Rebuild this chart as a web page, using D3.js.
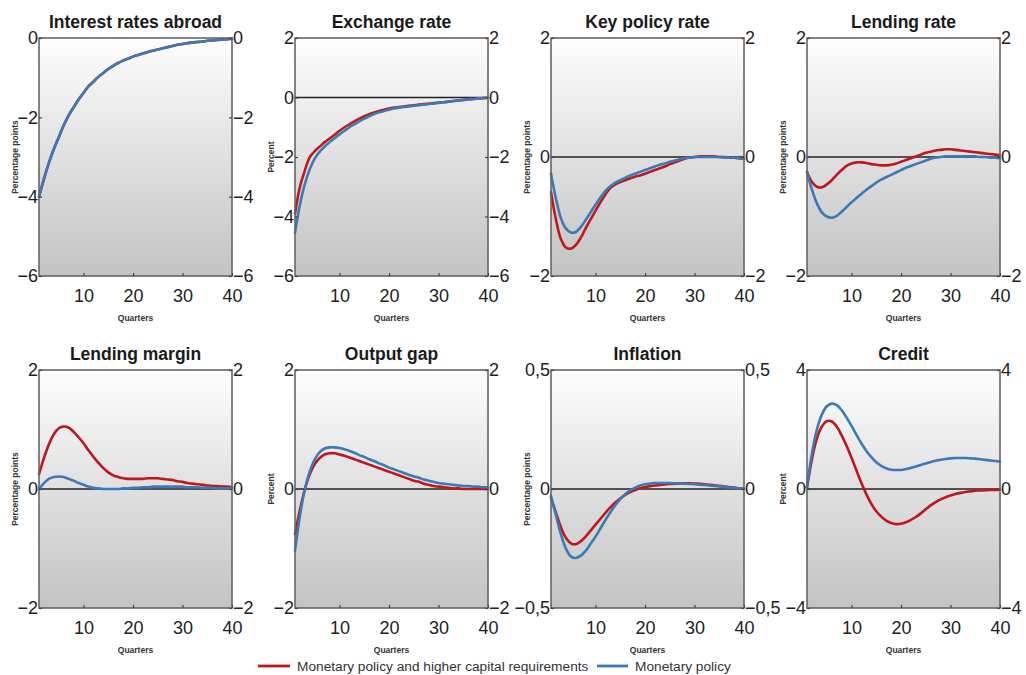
<!DOCTYPE html>
<html><head><meta charset="utf-8">
<script src="https://cdn.jsdelivr.net/npm/d3@7"></script>
<style>
html,body{margin:0;padding:0;background:#fff;}
svg{display:block;font-family:"Liberation Sans",Arial,Helvetica,sans-serif;}
</style></head>
<body><svg id="chart" width="1026" height="675"></svg>
<script>
const quarters = [1,2,3,4,5,6,7,8,9,10,11,12,13,14,15,16,17,18,19,20,21,22,23,24,25,26,27,28,29,30,31,32,33,34,35,36,37,38,39,40];
const xTicks = [10,20,30,40];
const titles = ["Interest rates abroad","Exchange rate","Key policy rate","Lending rate","Lending margin","Output gap","Inflation","Credit"];
const yLabels = ["Percentage points","Percent","Percentage points","Percentage points","Percentage points","Percent","Percentage points","Percent"];
const yDomains = [[-6,0],[-6,2],[-2,2],[-2,2],[-2,2],[-2,2],[-0.5,0.5],[-4,4]];
const yTicks = [[-6,-4,-2,0],[-6,-4,-2,0,2],[-2,0,2],[-2,0,2],[-2,0,2],[-2,0,2],[-0.5,0,0.5],[-4,0,4]];
const seriesNames = ["Monetary policy and higher capital requirements","Monetary policy"];
const seriesColors = ["#c0171c","#3a7ab8"];

// Red = monetary policy and higher capital requirements, Blue = monetary policy
const interestRed = [-4.0,-3.55,-3.15,-2.8,-2.5,-2.2,-1.95,-1.75,-1.55,-1.38,-1.22,-1.1,-0.98,-0.88,-0.78,-0.7,-0.63,-0.57,-0.52,-0.47,-0.43,-0.39,-0.35,-0.32,-0.29,-0.26,-0.23,-0.2,-0.17,-0.15,-0.13,-0.11,-0.1,-0.09,-0.07,-0.06,-0.05,-0.04,-0.03,-0.02];
const interestBlue = [-4.0,-3.55,-3.15,-2.8,-2.5,-2.2,-1.95,-1.75,-1.55,-1.38,-1.22,-1.1,-0.98,-0.88,-0.78,-0.7,-0.63,-0.57,-0.52,-0.47,-0.43,-0.39,-0.35,-0.32,-0.29,-0.26,-0.23,-0.2,-0.17,-0.15,-0.13,-0.11,-0.1,-0.09,-0.07,-0.06,-0.05,-0.04,-0.03,-0.02];
const exchangeRed = [-3.9,-3.0,-2.45,-2.0,-1.8,-1.65,-1.5,-1.38,-1.25,-1.12,-1.0,-0.9,-0.8,-0.71,-0.63,-0.56,-0.5,-0.45,-0.41,-0.37,-0.34,-0.32,-0.3,-0.28,-0.26,-0.24,-0.22,-0.21,-0.19,-0.17,-0.16,-0.14,-0.12,-0.1,-0.08,-0.06,-0.05,-0.03,-0.02,-0.01];
const exchangeBlue = [-4.55,-3.6,-2.9,-2.4,-2.05,-1.82,-1.65,-1.5,-1.37,-1.24,-1.12,-1.0,-0.9,-0.8,-0.71,-0.63,-0.56,-0.5,-0.45,-0.41,-0.37,-0.34,-0.32,-0.3,-0.28,-0.26,-0.24,-0.22,-0.2,-0.18,-0.16,-0.14,-0.12,-0.1,-0.08,-0.06,-0.05,-0.03,-0.02,-0.01];
const policyRed = [-0.59,-1.05,-1.38,-1.52,-1.54,-1.48,-1.36,-1.2,-1.05,-0.9,-0.76,-0.63,-0.52,-0.46,-0.42,-0.39,-0.36,-0.33,-0.31,-0.28,-0.25,-0.22,-0.19,-0.16,-0.12,-0.09,-0.06,-0.03,-0.01,0.0,0.01,0.01,0.01,0.01,0.0,0.0,-0.01,-0.01,-0.02,-0.03];
const policyBlue = [-0.28,-0.7,-1.03,-1.2,-1.27,-1.26,-1.18,-1.06,-0.93,-0.8,-0.68,-0.57,-0.49,-0.43,-0.39,-0.35,-0.31,-0.28,-0.25,-0.22,-0.19,-0.16,-0.13,-0.11,-0.08,-0.06,-0.04,-0.02,-0.01,0.0,0.0,0.0,0.0,0.0,0.0,-0.01,-0.01,-0.01,-0.02,-0.02];
const lendingRed = [-0.25,-0.42,-0.5,-0.51,-0.46,-0.39,-0.3,-0.22,-0.15,-0.11,-0.09,-0.09,-0.1,-0.12,-0.13,-0.14,-0.14,-0.13,-0.11,-0.08,-0.05,-0.02,0.01,0.04,0.07,0.09,0.11,0.12,0.13,0.13,0.12,0.11,0.1,0.09,0.08,0.07,0.06,0.05,0.04,0.03];
const lendingBlue = [-0.25,-0.55,-0.78,-0.93,-1.0,-1.02,-0.99,-0.92,-0.84,-0.76,-0.69,-0.62,-0.55,-0.49,-0.43,-0.38,-0.34,-0.3,-0.26,-0.22,-0.18,-0.15,-0.12,-0.09,-0.06,-0.03,-0.01,0.0,0.01,0.01,0.01,0.01,0.01,0.01,0.01,0.0,0.0,-0.01,-0.01,-0.02];
const marginRed = [0.25,0.52,0.75,0.92,1.02,1.05,1.03,0.96,0.87,0.77,0.65,0.54,0.44,0.35,0.28,0.23,0.2,0.18,0.17,0.17,0.17,0.17,0.18,0.18,0.18,0.17,0.16,0.15,0.13,0.12,0.1,0.09,0.08,0.07,0.06,0.05,0.05,0.04,0.04,0.03];
const marginBlue = [0.0,0.1,0.17,0.2,0.21,0.2,0.17,0.14,0.1,0.07,0.04,0.02,0.01,0.0,0.0,0.0,0.0,0.01,0.01,0.02,0.02,0.03,0.03,0.04,0.04,0.04,0.04,0.04,0.04,0.04,0.03,0.03,0.03,0.02,0.02,0.02,0.01,0.01,0.01,0.01];
const outputRed = [-0.76,-0.35,0.0,0.25,0.42,0.52,0.58,0.6,0.6,0.58,0.56,0.53,0.5,0.47,0.44,0.41,0.38,0.35,0.32,0.29,0.26,0.23,0.2,0.17,0.14,0.12,0.09,0.07,0.05,0.04,0.03,0.02,0.01,0.01,0.0,0.0,0.0,0.0,0.0,0.0];
const outputBlue = [-1.04,-0.45,0.0,0.3,0.5,0.62,0.68,0.7,0.7,0.69,0.67,0.64,0.61,0.57,0.54,0.5,0.47,0.43,0.4,0.36,0.33,0.3,0.27,0.24,0.21,0.19,0.16,0.14,0.12,0.1,0.09,0.08,0.07,0.06,0.05,0.05,0.04,0.04,0.03,0.03];
const inflationRed = [-0.035,-0.1,-0.16,-0.205,-0.228,-0.232,-0.22,-0.2,-0.175,-0.15,-0.125,-0.1,-0.077,-0.057,-0.04,-0.025,-0.013,-0.004,0.003,0.008,0.012,0.015,0.017,0.019,0.021,0.022,0.023,0.024,0.024,0.023,0.022,0.02,0.018,0.016,0.013,0.011,0.008,0.006,0.003,0.001];
const inflationBlue = [-0.03,-0.11,-0.19,-0.25,-0.283,-0.29,-0.28,-0.26,-0.23,-0.2,-0.165,-0.13,-0.098,-0.068,-0.043,-0.022,-0.006,0.006,0.015,0.02,0.023,0.025,0.025,0.025,0.025,0.024,0.023,0.022,0.021,0.02,0.018,0.017,0.015,0.013,0.011,0.009,0.007,0.005,0.003,0.001];
const creditRed = [0.05,1.0,1.7,2.1,2.28,2.27,2.1,1.8,1.45,1.05,0.62,0.2,-0.18,-0.5,-0.75,-0.93,-1.06,-1.14,-1.18,-1.17,-1.12,-1.04,-0.94,-0.82,-0.68,-0.55,-0.44,-0.35,-0.28,-0.22,-0.17,-0.13,-0.1,-0.08,-0.06,-0.05,-0.04,-0.03,-0.03,-0.02];
const creditBlue = [0.05,1.2,2.0,2.5,2.78,2.87,2.82,2.65,2.4,2.12,1.82,1.53,1.28,1.07,0.9,0.78,0.7,0.65,0.64,0.64,0.67,0.71,0.76,0.81,0.86,0.91,0.95,0.98,1.01,1.03,1.04,1.04,1.04,1.03,1.02,1.0,0.98,0.96,0.94,0.92];

const panelSeries = [
  [interestRed, interestBlue],
  [exchangeRed, exchangeBlue],
  [policyRed, policyBlue],
  [lendingRed, lendingBlue],
  [marginRed, marginBlue],
  [outputRed, outputBlue],
  [inflationRed, inflationBlue],
  [creditRed, creditBlue]
];

const svg = d3.select("#chart");
const defs = svg.append("defs");
const grad = defs.append("linearGradient").attr("id","bg").attr("x1",0).attr("y1",0).attr("x2",0).attr("y2",1);
grad.append("stop").attr("offset","0%").attr("stop-color","#fdfdfd");
grad.append("stop").attr("offset","100%").attr("stop-color","#c3c3c3");

const colLefts = [39, 295, 551, 807];
const rowTops = [38, 370];
const pw = 193, ph = 238;

function fmt(v){
  const s = String(Math.abs(v)).replace(".", ",");
  return v < 0 ? "\u2212" + s : s;
}

titles.forEach((t, i) => {
  const L = colLefts[i % 4], T = rowTops[Math.floor(i / 4)];
  const g = svg.append("g").attr("transform", `translate(${L},${T})`);
  const x = d3.scaleLinear().domain([1, 40]).range([0, pw]);
  const y = d3.scaleLinear().domain(yDomains[i]).range([ph, 0]);

  g.append("rect").attr("width", pw).attr("height", ph).attr("fill", "url(#bg)");

  if (yDomains[i][0] < 0 && yDomains[i][1] > 0) {
    g.append("line").attr("x1", 0).attr("x2", pw).attr("y1", y(0)).attr("y2", y(0))
      .attr("stroke", "#222").attr("stroke-width", 1.3);
  }

  const line = d3.line().x((d, k) => x(quarters[k])).y(d => y(d)).curve(d3.curveCatmullRom);
  panelSeries[i].forEach((vals, s) => {
    g.append("path").datum(vals).attr("d", line).attr("fill", "none")
      .attr("stroke", seriesColors[s]).attr("stroke-width", 2.6)
      .attr("stroke-linejoin", "round").attr("stroke-linecap", "round");
  });

  g.append("rect").attr("width", pw).attr("height", ph).attr("fill", "none")
    .attr("stroke", "#666").attr("stroke-width", 1.6);

  const fontTick = "18px";
  const ax = g.append("g").attr("transform", `translate(0,${ph})`)
    .call(d3.axisBottom(x).tickValues(xTicks).tickFormat(d3.format("d")).tickSize(-3).tickPadding(13));
  const ayl = g.append("g").call(d3.axisLeft(y).tickValues(yTicks[i]).tickFormat(fmt).tickSize(-3).tickPadding(1));
  const ayr = g.append("g").attr("transform", `translate(${pw},0)`)
    .call(d3.axisRight(y).tickValues(yTicks[i]).tickFormat(fmt).tickSize(-3).tickPadding(1));
  [ax, ayl, ayr].forEach(a => {
    a.select(".domain").remove();
    a.selectAll("line").attr("stroke", "#444").attr("stroke-width", 1.2);
    a.selectAll("text").attr("font-size", fontTick).attr("fill", "#222")
      .attr("font-family", "'Liberation Sans', Arial, sans-serif");
  });

  svg.append("text").attr("x", L + pw / 2).attr("y", T - 10).attr("text-anchor", "middle")
    .attr("font-size", "17.5px").attr("font-weight", "bold").attr("fill", "#1a1a1a").text(t);

  svg.append("text").attr("x", L + pw / 2).attr("y", T + ph + 45).attr("text-anchor", "middle")
    .attr("font-size", "8.5px").attr("font-weight", "bold").attr("fill", "#333").text("Quarters");

  svg.append("text").attr("transform", `translate(${L - 21},${T + ph / 2}) rotate(-90)`)
    .attr("text-anchor", "middle").attr("font-size", "8.5px").attr("font-weight", "bold")
    .attr("fill", "#333").text(yLabels[i]);
});

// legend
const legY = 666;
const legItems = [
  {x1: 258, x2: 290, tx: 297},
  {x1: 597, x2: 628, tx: 635}
];
seriesNames.forEach((n, s) => {
  svg.append("line").attr("x1", legItems[s].x1).attr("x2", legItems[s].x2)
    .attr("y1", legY).attr("y2", legY).attr("stroke", seriesColors[s]).attr("stroke-width", 2.8);
  svg.append("text").attr("x", legItems[s].tx).attr("y", legY + 5)
    .attr("font-size", "13.7px").attr("fill", "#333").text(n);
});
</script></body></html>
